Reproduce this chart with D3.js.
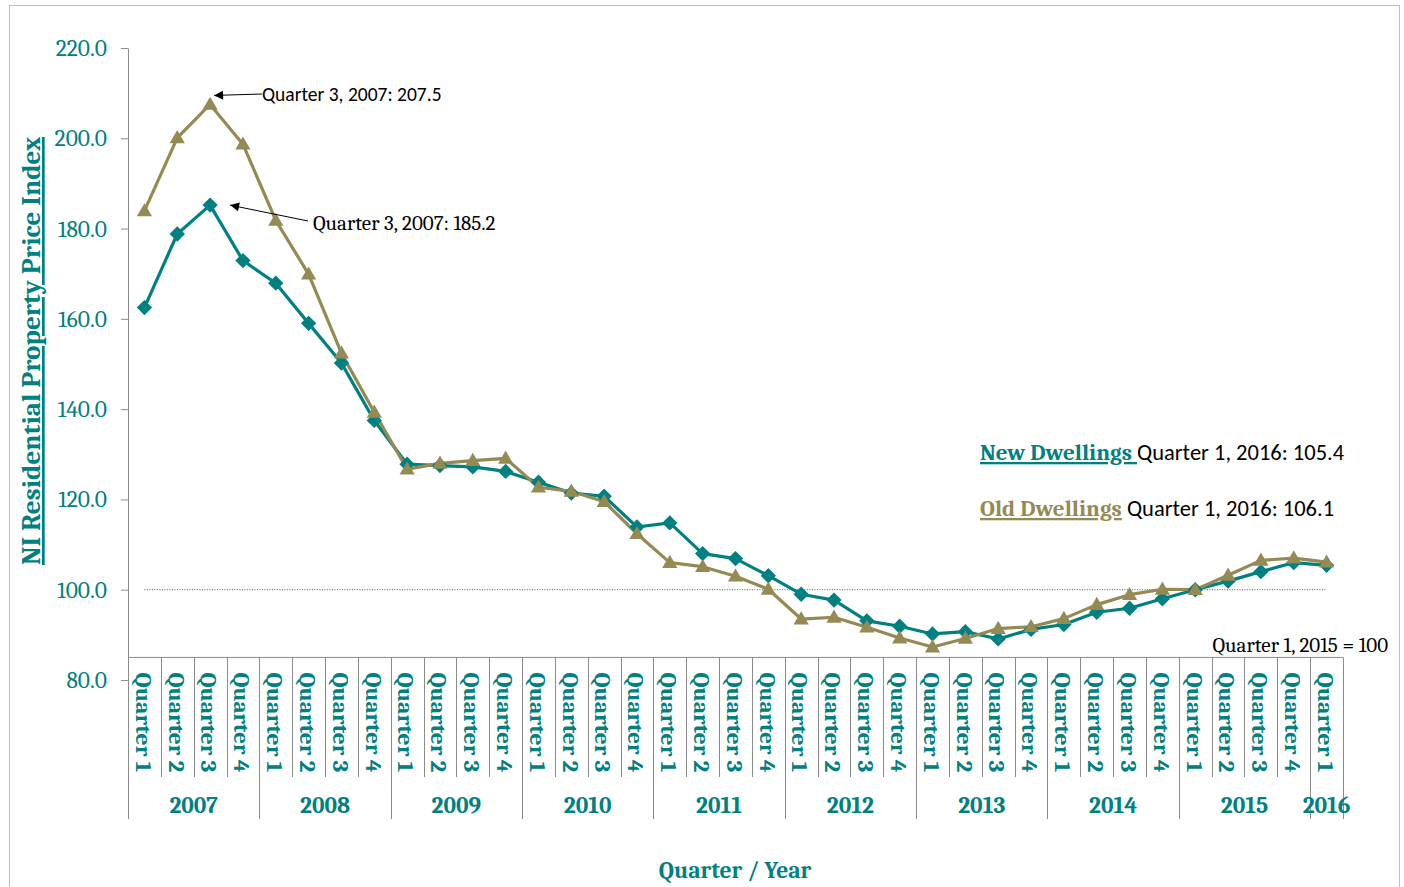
<!DOCTYPE html>
<html>
<head>
<meta charset="utf-8">
<script src="https://cdn.jsdelivr.net/npm/d3@7"></script>
<style>
  html, body { margin: 0; padding: 0; background: #fff; }
  svg { display: block; }
</style>
</head>
<body>
<svg id="chart" width="1404" height="887"></svg>
<script>
// Quarters 2007 Q1 .. 2016 Q1
const years = ['2007', '2008', '2009', '2010', '2011', '2012', '2013', '2014', '2015', '2016'];
const quarterNames = ['Quarter 1', 'Quarter 2', 'Quarter 3', 'Quarter 4'];
const periods = [];
years.forEach(y => quarterNames.forEach((q, qi) => {
    if (y === '2016' && qi > 0) return;
    periods.push({ year: y, quarter: q });
}));

const newDwellings = [
    162.5, 178.8, 185.2, 172.9,
    167.9, 159.0, 150.2, 137.5,
    127.8, 127.5, 127.2, 126.2,
    123.8, 121.4, 120.7, 113.9,
    114.8, 108.0, 106.9, 103.1,
    99.0, 97.7, 93.1, 91.9,
    90.2, 90.7, 89.1, 91.2,
    92.3, 95.0, 95.9, 98.0,
    100.0, 101.9, 104.0, 106.0,
    105.4
];
const oldDwellings = [
    183.9, 200.1, 207.5, 198.7,
    181.8, 169.9, 152.4, 139.3,
    126.7, 128.0, 128.6, 129.1,
    122.7, 121.8, 119.5, 112.4,
    106.0, 105.1, 103.0, 100.1,
    93.5, 93.9, 91.7, 89.3,
    87.3, 89.2, 91.4, 91.8,
    93.6, 96.7, 98.9, 100.1,
    100.0, 103.2, 106.5, 107.0,
    106.1
];
const yTicks = [80, 100, 120, 140, 160, 180, 200, 220];

const teal = '#008080';
const khaki = '#948A54';
const serif = 'Cambria, "Liberation Serif", serif';
const sans = 'Calibri, Lato, "Open Sans", sans-serif';

const svg = d3.select('#chart');

// outer frame
svg.append('rect')
    .attr('x', 9.5).attr('y', 5.5)
    .attr('width', 1390).attr('height', 900)
    .attr('fill', 'none').attr('stroke', '#bdbdbd');

const x = d3.scaleBand()
    .domain(d3.range(periods.length))
    .range([128, 1343])
    .paddingInner(0).paddingOuter(0);
const y = d3.scaleLinear().domain([80, 220]).range([680, 48]);
const cx = i => x(i) + x.bandwidth() / 2;

const axisY = y(85); // category axis crosses here
const gridColor = '#8c8c8c';

// value axis
const yAxis = svg.append('g')
    .attr('transform', 'translate(128,0)')
    .call(d3.axisLeft(y).tickValues(yTicks).tickFormat(d3.format('.1f')).tickSize(7).tickSizeOuter(0));
yAxis.select('.domain').attr('stroke', gridColor);
yAxis.selectAll('.tick line').attr('stroke', gridColor);
yAxis.selectAll('.tick text')
    .attr('x', -21)
    .attr('fill', teal)
    .style('font-family', serif)
    .style('font-size', '23.5px');

// category axis
const xAxis = svg.append('g').attr('class', 'x-axis');
xAxis.append('line')
    .attr('x1', 128).attr('x2', 1343)
    .attr('y1', axisY).attr('y2', axisY)
    .attr('stroke', gridColor);
// dividers
d3.range(periods.length + 1).forEach(i => {
    const xx = i < periods.length ? x(i) : x(periods.length - 1) + x.bandwidth();
    const isYear = i === periods.length || periods[i].quarter === 'Quarter 1';
    xAxis.append('line')
        .attr('x1', Math.round(xx) + 0.5).attr('x2', Math.round(xx) + 0.5)
        .attr('y1', axisY).attr('y2', isYear ? 819 : 777)
        .attr('stroke', gridColor);
});
// quarter labels
xAxis.selectAll('text.q')
    .data(periods)
    .join('text')
    .attr('class', 'q')
    .attr('transform', (d, i) => `translate(${cx(i) - 1},${axisY + 15}) rotate(90)`)
    .attr('dy', '0.35em')
    .attr('fill', teal)
    .attr('textLength', 100)
    .attr('lengthAdjust', 'spacingAndGlyphs')
    .style('font-family', serif)
    .style('font-weight', 'bold')
    .style('font-size', '22px')
    .text(d => d.quarter);
// year labels
years.forEach(yr => {
    const idx = periods.map((p, i) => p.year === yr ? i : -1).filter(i => i >= 0);
    const mid = (x(idx[0]) + x(idx[idx.length - 1]) + x.bandwidth()) / 2;
    xAxis.append('text')
        .attr('x', mid).attr('y', 813)
        .attr('text-anchor', 'middle')
        .attr('fill', teal)
        .style('font-family', serif)
        .style('font-weight', 'bold')
        .style('font-size', '23.5px')
        .text(yr);
});

// base line at 100
svg.append('line')
    .attr('x1', cx(0)).attr('x2', cx(periods.length - 1))
    .attr('y1', y(100)).attr('y2', y(100))
    .attr('stroke', '#555').attr('stroke-width', 1)
    .attr('stroke-dasharray', '1,1.5');

// series
const line = d3.line().x((d, i) => cx(i)).y(d => y(d));

svg.append('path').datum(newDwellings)
    .attr('d', line).attr('fill', 'none')
    .attr('stroke', teal).attr('stroke-width', 3.2).attr('stroke-linejoin', 'round');
svg.append('path').datum(oldDwellings)
    .attr('d', line).attr('fill', 'none')
    .attr('stroke', khaki).attr('stroke-width', 3.2).attr('stroke-linejoin', 'round');

svg.selectAll('path.diamond')
    .data(newDwellings)
    .join('path')
    .attr('class', 'diamond')
    .attr('transform', (d, i) => `translate(${cx(i)},${y(d)})`)
    .attr('d', d3.symbol(d3.symbolDiamond2, 150)())
    .attr('fill', teal);

svg.selectAll('path.tri')
    .data(oldDwellings)
    .join('path')
    .attr('class', 'tri')
    .attr('transform', (d, i) => `translate(${cx(i)},${y(d) + 1})`)
    .attr('d', d3.symbol(d3.symbolTriangle2, 165)())
    .attr('fill', khaki);

// annotations
svg.append('defs').append('marker')
    .attr('id', 'arrow')
    .attr('viewBox', '0 0 10 10')
    .attr('refX', 10).attr('refY', 5)
    .attr('markerWidth', 11).attr('markerHeight', 9)
    .attr('markerUnits', 'userSpaceOnUse')
    .attr('orient', 'auto')
    .append('path').attr('d', 'M0,0L10,5L0,10Z').attr('fill', '#000');

svg.append('line')
    .attr('x1', 262).attr('y1', 94)
    .attr('x2', cx(2) + 4).attr('y2', y(207.5) - 9)
    .attr('stroke', '#000').attr('marker-end', 'url(#arrow)');
svg.append('text')
    .attr('x', 262).attr('y', 101)
    .style('font-family', sans).style('font-size', '19.5px')
    .text('Quarter 3, 2007: 207.5');

svg.append('line')
    .attr('x1', 308).attr('y1', 221)
    .attr('x2', cx(2) + 20).attr('y2', y(185.2))
    .attr('stroke', '#000').attr('marker-end', 'url(#arrow)');
svg.append('text')
    .attr('x', 313).attr('y', 230)
    .style('font-family', serif).style('font-size', '21px')
    .text('Quarter 3, 2007: 185.2');

// legend-like labels
const legend = [
    { name: 'New Dwellings ', color: teal, value: 'Quarter 1, 2016: 105.4', y: 460 },
    { name: 'Old Dwellings', color: khaki, value: ' Quarter 1, 2016: 106.1', y: 516 }
];
legend.forEach(l => {
    const t = svg.append('text').attr('x', 980).attr('y', l.y);
    t.append('tspan')
        .attr('fill', l.color)
        .style('font-family', serif)
        .style('font-weight', 'bold')
        .style('font-size', '23px')
        .style('text-decoration', 'underline')
        .style('white-space', 'pre')
        .text(l.name);
    t.append('tspan')
        .attr('fill', '#000')
        .style('font-family', sans)
        .style('font-size', '22.5px')
        .style('white-space', 'pre')
        .text(l.value);
});

svg.append('text')
    .attr('x', 1388).attr('y', 652)
    .attr('text-anchor', 'end')
    .style('font-family', serif).style('font-size', '21px')
    .text('Quarter 1, 2015 = 100');

// axis titles
svg.append('text')
    .attr('transform', `translate(40,${351}) rotate(-90)`)
    .attr('text-anchor', 'middle')
    .attr('fill', teal)
    .style('font-family', serif).style('font-weight', 'bold')
    .style('font-size', '27px')
    .style('text-decoration', 'underline')
    .text('NI Residential Property Price Index');

svg.append('text')
    .attr('x', 735).attr('y', 878)
    .attr('text-anchor', 'middle')
    .attr('fill', teal)
    .style('font-family', serif).style('font-weight', 'bold')
    .style('font-size', '23.5px')
    .text('Quarter / Year');
</script>
</body>
</html>
